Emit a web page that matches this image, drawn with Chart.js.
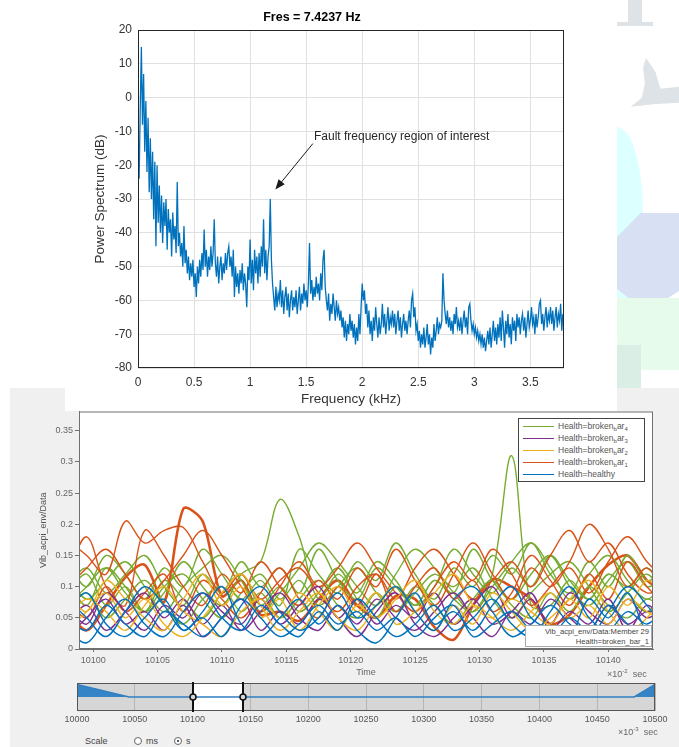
<!DOCTYPE html>
<html>
<head>
<meta charset="utf-8">
<script src="https://cdn.jsdelivr.net/npm/chart.js@4.4.1/dist/chart.umd.min.js"></script>
<style>
  html, body { margin: 0; padding: 0; background: #fff; }
  body { width: 679px; height: 747px; position: relative; overflow: hidden; font-family: "Liberation Sans", Arial, sans-serif; }
  .abs { position: absolute; }
  #panel { left: 10px; top: 388px; width: 669px; height: 359px; background: #f0f0f0; }
  #topWhite { left: 65px; top: 388px; width: 552px; height: 23px; background: #fff; z-index: 3; }
  #specWrap { left: 60px; top: 0; z-index: 4; }
  #envWrap { left: 10px; top: 400px; z-index: 2; }
  #sliderWrap { left: 60px; top: 678px; z-index: 2; }
  #legend { left: 518px; top: 418px; width: 125px; height: 62px; background: #fff; border: 1px solid #444; z-index: 5; font-size: 8.5px; color: #555; }
  #legend .row { position: absolute; left: 0; height: 12px; line-height: 12px; white-space: nowrap; }
  #legend .swatch { position: absolute; left: 4px; top: 6px; width: 31px; height: 0; border-top: 1.5px solid; }
  #legend .txt { position: absolute; left: 39px; top: 0; }
  #legend sub { font-size: 6px; vertical-align: -2px; line-height: 0; }
  .tip { left: 525px; top: 625px; width: 127px; height: 22px; background: #fff; border: 1px solid #aaa; z-index: 5; font-size: 7.6px; color: #444; text-align: right; line-height: 10px; padding: 1px 2px 0 0; box-sizing: border-box; white-space: nowrap; }
  .unit { font-size: 9px; color: #666; z-index: 5; white-space: nowrap; }
  .unit sup { font-size: 6px; }
  .radio { width: 8px; height: 8px; border: 1px solid #666; border-radius: 50%; background: #fff; z-index: 5; box-sizing: border-box; }
  .radio.on::after { content: ""; position: absolute; left: 2px; top: 2px; width: 2px; height: 2px; border-radius: 50%; background: #222; }
  .deco { z-index: 1; }
</style>
</head>
<body>
<div class="abs deco" style="left:628px;top:0;width:14px;height:23px;background:#dde3e6;"></div>
<div class="abs deco" style="left:617px;top:22px;width:36px;height:4px;background:#dde3e6;"></div>
<div class="abs deco" style="left:617px;top:58px;width:62px;height:64px;background:#dde3e6;clip-path:polygon(47% 0,62% 22%,70% 48%,100% 45%,100% 70%,62% 72%,22% 76%,40% 62%,45% 40%,42% 15%);"></div>
<div class="abs deco" style="left:617px;top:127px;width:26px;height:190px;background:#dcffff;border-radius:0 100% 0 0 / 0 45% 0 0;"></div>
<div class="abs deco" style="left:617px;top:213px;width:62px;height:100px;background:#d8e0f4;clip-path:polygon(0 24%,38% 0,100% 0,100% 78%,75% 88%,50% 100%,0 76%);"></div>
<div class="abs deco" style="left:617px;top:298px;width:62px;height:72px;background:#e6fbeb;border-radius:0 0 0 30px;"></div>
<div class="abs deco" style="left:617px;top:345px;width:24px;height:43px;background:#dbeee5;"></div>

<div class="abs" id="panel"></div>
<div class="abs" id="topWhite"></div>
<div class="abs" id="specWrap"><canvas id="specChart" width="520" height="412"></canvas></div>
<div class="abs" id="envWrap"><canvas id="envChart" width="669" height="282"></canvas></div>
<div class="abs" id="sliderWrap"><canvas id="sliderChart" width="615" height="50"></canvas></div>
<div class="abs" id="legend"></div>
<div class="abs tip">Vib_acpi_env/Data:Member 29<br>Health=broken_bar_1</div>
<div class="abs unit" style="left:607px;top:668px;">&times;10<sup>-2</sup>&nbsp; sec</div>
<div class="abs unit" style="left:618px;top:726px;">&times;10<sup>-3</sup>&nbsp; sec</div>
<div class="abs unit" style="left:85px;top:736px;color:#444;">Scale</div>
<div class="abs radio" style="left:134px;top:737px;"></div>
<div class="abs unit" style="left:146px;top:736px;color:#444;">ms</div>
<div class="abs radio on" style="left:174px;top:737px;"></div>
<div class="abs unit" style="left:186px;top:736px;color:#444;">s</div>

<script>
const FONT = '"Liberation Sans", Arial, sans-serif';

// ---- top chart: power spectrum ----
const specTitle = 'Fres = 7.4237 Hz';
const specFreqStep = 0.01; // kHz per bin
const specDb = [
  -10, -24, -3, 15, -8, 7, -16, -1, -22, -6, -28, -12, -30, -16, -36, -19, -44, -20, -37, -26,
  -40, -29, -43, -31, -38, -30, -45, -33, -40, -36, -47, -34, -42, -38, -46, -25, -44, -40, -47, -43,
  -50, -38, -49, -45, -52, -47, -54, -49, -53, -48, -56, -52, -59, -50, -55, -48, -53, -46, -51, -39,
  -50, -45, -53, -47, -51, -44, -50, -46, -36, -49, -53, -47, -55, -50, -47, -54, -49, -52, -46, -51,
  -46, -44, -50, -47, -53, -45, -59, -50, -56, -52, -58, -51, -55, -49, -57, -52, -55, -62, -50, -54,
  -42, -55, -48, -57, -45, -52, -47, -55, -46, -53, -44, -50, -36, -52, -45, -54, -47, -44, -30, -48,
  -55, -59, -63, -56, -62, -58, -60, -54, -62, -57, -64, -59, -56, -63, -58, -65, -60, -57, -63, -59,
  -62, -57, -64, -60, -56, -63, -58, -61, -55, -60, -57, -62, -55, -43, -58, -54, -60, -56, -59, -53,
  -58, -55, -60, -52, -57, -48, -45, -56, -60, -63, -58, -66, -61, -64, -58, -62, -66, -60, -64, -62,
  -66, -63, -68, -65, -71, -66, -72, -67, -70, -64, -69, -66, -71, -67, -73, -68, -72, -64, -70, -62,
  -55, -60, -57, -64, -61, -68, -63, -70, -66, -72, -65, -69, -62, -67, -71, -65, -70, -67, -61, -68,
  -64, -70, -66, -62, -69, -65, -67, -63, -68, -64, -70, -66, -63, -69, -65, -71, -67, -64, -69, -66,
  -70, -66, -63, -68, -60, -58, -65, -62, -69, -67, -72, -69, -74, -70, -73, -68, -74, -71, -67, -73,
  -70, -76, -71, -74, -67, -72, -69, -65, -70, -67, -68, -66, -52, -60, -64, -67, -63, -68, -65, -69,
  -66, -70, -64, -67, -62, -68, -66, -69, -65, -70, -66, -63, -68, -65, -70, -62, -61, -66, -69, -67,
  -70, -68, -71, -69, -72, -70, -73, -70, -74, -71, -75, -72, -69, -73, -68, -74, -70, -66, -72, -68,
  -73, -67, -71, -65, -72, -63, -68, -74, -66, -70, -64, -71, -67, -73, -65, -69, -66, -72, -64, -68,
  -65, -70, -66, -64, -69, -65, -71, -67, -63, -68, -66, -62, -67, -65, -70, -64, -68, -65, -61, -60,
  -67, -64, -69, -65, -62, -68, -64, -66, -62, -67, -63, -69, -65, -62, -68, -64, -66, -61, -69, -64,
  -67
];
const faultNote = 'Fault frequency region of interest';
const faultNoteAt = [1.57, -11.6];
const faultArrowFrom = [1.56, -13.6];
const faultArrowTo = [1.225, -27.2];

// ---- bottom chart: signal trace, x in 1e-2 sec ----
const envTimes = [10098, 10099.5, 10101, 10102.5, 10104, 10105.5, 10107, 10108.5, 10110, 10111.5,
  10113, 10114.5, 10116, 10117.5, 10119, 10120.5, 10122, 10123.5, 10125, 10126.5, 10128, 10129.5,
  10131, 10132.5, 10134, 10135.5, 10137, 10138.5, 10140, 10141.5, 10143, 10144.5];
const healthy1 = [0.03, 0.01, 0.05, 0.08, 0.04, 0.02, 0.06, 0.09, 0.05, 0.03, 0.07, 0.04, 0.02, 0.06, 0.03, 0.08, 0.05, 0.02, 0.04, 0.07, 0.03, 0.05, 0.08, 0.04, 0.02, 0.06, 0.1, 0.05, 0.03, 0.06, 0.04, 0.07];
const healthy2 = [0.06, 0.09, 0.04, 0.02, 0.05, 0.08, 0.03, 0.06, 0.1, 0.04, 0.02, 0.05, 0.08, 0.04, 0.07, 0.03, 0.01, 0.05, 0.09, 0.04, 0.06, 0.03, 0.07, 0.1, 0.05, 0.03, 0.02, 0.08, 0.05, 0.09, 0.03, 0.05];
const healthy3 = [0.08, 0.05, 0.02, 0.06, 0.1, 0.07, 0.03, 0.05, 0.02, 0.07, 0.1, 0.06, 0.03, 0.05, 0.09, 0.05, 0.07, 0.1, 0.06, 0.03, 0.08, 0.1, 0.06, 0.02, 0.04, 0.07, 0.04, 0.02, 0.06, 0.1, 0.07, 0.03];
const healthy4 = [0.05, 0.03, 0.07, 0.04, 0.02, 0.06, 0.04, 0.02, 0.05, 0.08, 0.05, 0.02, 0.04, 0.07, 0.04, 0.06, 0.03, 0.05, 0.02, 0.05, 0.07, 0.02, 0.04, 0.06, 0.03, 0.02, 0.05, 0.03, 0.07, 0.04, 0.02, 0.06];
const bar2a = [0.05, 0.08, 0.06, 0.03, 0.07, 0.1, 0.06, 0.04, 0.02, 0.06, 0.08, 0.05, 0.09, 0.06, 0.03, 0.07, 0.05, 0.08, 0.11, 0.06, 0.04, 0.07, 0.05, 0.03, 0.06, 0.09, 0.05, 0.07, 0.04, 0.08, 0.06, 0.04];
const bar2b = [0.09, 0.06, 0.11, 0.08, 0.05, 0.03, 0.08, 0.12, 0.07, 0.1, 0.05, 0.08, 0.03, 0.07, 0.1, 0.06, 0.09, 0.04, 0.06, 0.09, 0.12, 0.07, 0.05, 0.08, 0.06, 0.04, 0.08, 0.05, 0.1, 0.07, 0.11, 0.08];
const bar2c = [0.03, 0.06, 0.09, 0.05, 0.08, 0.04, 0.02, 0.05, 0.09, 0.12, 0.07, 0.03, 0.06, 0.09, 0.05, 0.03, 0.07, 0.1, 0.06, 0.03, 0.07, 0.04, 0.09, 0.06, 0.03, 0.05, 0.08, 0.11, 0.06, 0.03, 0.05, 0.09];
const bar3a = [0.04, 0.07, 0.03, 0.06, 0.09, 0.05, 0.08, 0.04, 0.07, 0.03, 0.06, 0.09, 0.05, 0.03, 0.07, 0.04, 0.08, 0.05, 0.03, 0.06, 0.09, 0.05, 0.02, 0.06, 0.04, 0.08, 0.05, 0.03, 0.07, 0.04, 0.06, 0.05];
const bar3b = [0.07, 0.04, 0.09, 0.06, 0.03, 0.07, 0.05, 0.09, 0.06, 0.04, 0.08, 0.04, 0.07, 0.1, 0.05, 0.08, 0.04, 0.07, 0.05, 0.09, 0.04, 0.07, 0.1, 0.05, 0.08, 0.04, 0.09, 0.06, 0.04, 0.08, 0.05, 0.07];
const bar3c = [0.02, 0.05, 0.08, 0.04, 0.06, 0.03, 0.07, 0.02, 0.05, 0.08, 0.03, 0.06, 0.04, 0.08, 0.05, 0.02, 0.06, 0.09, 0.04, 0.02, 0.05, 0.08, 0.04, 0.06, 0.09, 0.03, 0.06, 0.04, 0.08, 0.03, 0.07, 0.04];
const bar1a = [0.175, 0.15, 0.12, 0.205, 0.17, 0.19, 0.195, 0.14, 0.09, 0.12, 0.08, 0.11, 0.13, 0.09, 0.06, 0.1, 0.12, 0.08, 0.13, 0.16, 0.12, 0.08, 0.11, 0.14, 0.1, 0.15, 0.19, 0.14, 0.17, 0.12, 0.09, 0.1];
const bar1b = [0.12, 0.18, 0.1, 0.07, 0.19, 0.15, 0.1, 0.07, 0.12, 0.09, 0.14, 0.1, 0.07, 0.11, 0.08, 0.13, 0.1, 0.16, 0.11, 0.07, 0.12, 0.17, 0.12, 0.08, 0.13, 0.1, 0.14, 0.2, 0.16, 0.1, 0.13, 0.08];
const bar1c = [0.08, 0.05, 0.1, 0.06, 0.09, 0.12, 0.06, 0.11, 0.08, 0.05, 0.09, 0.13, 0.08, 0.05, 0.1, 0.07, 0.12, 0.06, 0.1, 0.13, 0.08, 0.11, 0.06, 0.09, 0.15, 0.11, 0.07, 0.12, 0.08, 0.14, 0.1, 0.07];
const bar1d = [0.1, 0.13, 0.16, 0.12, 0.08, 0.11, 0.15, 0.19, 0.15, 0.1, 0.06, 0.1, 0.14, 0.1, 0.13, 0.17, 0.13, 0.09, 0.06, 0.1, 0.14, 0.11, 0.16, 0.12, 0.07, 0.1, 0.13, 0.09, 0.14, 0.18, 0.14, 0.11];
const bar4a = [0.09, 0.12, 0.07, 0.1, 0.06, 0.11, 0.08, 0.05, 0.09, 0.12, 0.07, 0.1, 0.06, 0.09, 0.13, 0.08, 0.05, 0.1, 0.07, 0.11, 0.08, 0.06, 0.12, 0.31, 0.07, 0.07, 0.11, 0.08, 0.12, 0.09, 0.06, 0.1];
const bar4b = [0.11, 0.07, 0.13, 0.1, 0.06, 0.09, 0.14, 0.1, 0.07, 0.12, 0.14, 0.24, 0.18, 0.08, 0.12, 0.09, 0.14, 0.11, 0.07, 0.1, 0.16, 0.12, 0.09, 0.13, 0.1, 0.15, 0.11, 0.08, 0.12, 0.1, 0.13, 0.09];
const bar4c = [0.14, 0.1, 0.15, 0.12, 0.08, 0.13, 0.1, 0.16, 0.12, 0.08, 0.11, 0.07, 0.16, 0.12, 0.09, 0.14, 0.11, 0.17, 0.12, 0.08, 0.13, 0.1, 0.15, 0.12, 0.17, 0.12, 0.09, 0.14, 0.1, 0.15, 0.11, 0.13];
const bar4d = [0.06, 0.09, 0.05, 0.08, 0.11, 0.07, 0.04, 0.08, 0.1, 0.06, 0.09, 0.05, 0.08, 0.11, 0.07, 0.05, 0.09, 0.06, 0.1, 0.07, 0.04, 0.08, 0.11, 0.07, 0.05, 0.09, 0.06, 0.1, 0.07, 0.05, 0.08, 0.06];
const bar4e = [0.1, 0.13, 0.09, 0.12, 0.15, 0.1, 0.07, 0.12, 0.09, 0.14, 0.1, 0.13, 0.09, 0.16, 0.11, 0.08, 0.13, 0.1, 0.07, 0.11, 0.09, 0.16, 0.11, 0.08, 0.12, 0.15, 0.1, 0.07, 0.11, 0.14, 0.1, 0.12];
const bar4f = [0.12, 0.08, 0.11, 0.14, 0.1, 0.06, 0.1, 0.13, 0.15, 0.11, 0.06, 0.09, 0.13, 0.17, 0.14, 0.1, 0.07, 0.12, 0.16, 0.13, 0.09, 0.06, 0.1, 0.14, 0.17, 0.13, 0.08, 0.12, 0.15, 0.11, 0.08, 0.11];
const bar4g = [0.07, 0.1, 0.13, 0.09, 0.06, 0.1, 0.12, 0.08, 0.05, 0.09, 0.12, 0.08, 0.11, 0.07, 0.1, 0.13, 0.09, 0.06, 0.09, 0.12, 0.1, 0.13, 0.08, 0.05, 0.09, 0.12, 0.14, 0.1, 0.06, 0.09, 0.12, 0.08];
const member29 = [0.06, 0.03, 0.07, 0.115, 0.135, 0.075, 0.225, 0.205, 0.085, 0.11, 0.055, 0.06, 0.045, 0.08, 0.11, 0.07, 0.05, 0.085, 0.08, 0.035, 0.015, 0.07, 0.112, 0.1, 0.08, 0.04, 0.055, 0.1, 0.135, 0.15, 0.11, 0.09];

const groupNames = ['broken_bar_4', 'broken_bar_3', 'broken_bar_2', 'broken_bar_1', 'healthy'];
const groupColors = ['#77AC30', '#7E2F8E', '#EDB120', '#D95319', '#0072BD'];
const groupSeries = [
  [bar4a, bar4b, bar4c, bar4d, bar4e, bar4f, bar4g],
  [bar3a, bar3b, bar3c],
  [bar2a, bar2b, bar2c],
  [bar1a, bar1b, bar1c, bar1d],
  [healthy1, healthy2, healthy3, healthy4]
];
const drawOrder = [4, 2, 1, 3, 0]; // healthy first, green on top

// ---- range slider (1e-3 sec) ----
const overviewTimes = [10000, 10045, 10482, 10500];
const overviewLevel = [0.95, 0.5, 0.5, 0.95];
const sliderWindow = [10100, 10143.5];

// ================= top chart =================
const specFramePlugin = {
  id: 'specFrame',
  afterDraw(chart) {
    const { ctx, chartArea: a, scales: { x, y } } = chart;
    ctx.save();
    ctx.strokeStyle = '#262626';
    ctx.lineWidth = 1;
    ctx.strokeRect(a.left + 0.5, a.top + 0.5, a.width - 1, a.height - 1);
    // annotation
    const x1 = x.getPixelForValue(faultArrowFrom[0]), y1 = y.getPixelForValue(faultArrowFrom[1]);
    const x2 = x.getPixelForValue(faultArrowTo[0]), y2 = y.getPixelForValue(faultArrowTo[1]);
    const ang = Math.atan2(y2 - y1, x2 - x1);
    ctx.strokeStyle = '#1a1a1a';
    ctx.fillStyle = '#1a1a1a';
    ctx.beginPath();
    ctx.moveTo(x1, y1);
    ctx.lineTo(x2 - 6 * Math.cos(ang), y2 - 6 * Math.sin(ang));
    ctx.stroke();
    ctx.beginPath();
    ctx.moveTo(x2, y2);
    ctx.lineTo(x2 - 10 * Math.cos(ang) + 4 * Math.sin(ang), y2 - 10 * Math.sin(ang) - 4 * Math.cos(ang));
    ctx.lineTo(x2 - 10 * Math.cos(ang) - 4 * Math.sin(ang), y2 - 10 * Math.sin(ang) + 4 * Math.cos(ang));
    ctx.closePath();
    ctx.fill();
    ctx.font = '12px ' + FONT;
    ctx.textAlign = 'left';
    ctx.textBaseline = 'middle';
    ctx.fillStyle = '#262626';
    ctx.fillText(faultNote, x.getPixelForValue(faultNoteAt[0]), y.getPixelForValue(faultNoteAt[1]));
    ctx.restore();
  }
};

new Chart(document.getElementById('specChart'), {
  type: 'line',
  data: {
    datasets: [{
      data: specDb.map((v, i) => ({ x: Math.round(i * specFreqStep * 100) / 100, y: v })),
      borderColor: '#0072BD',
      borderWidth: 1.3,
      pointRadius: 0,
      tension: 0
    }]
  },
  options: {
    responsive: false,
    animation: false,
    layout: { padding: { left: 0, right: 16, top: 0, bottom: 0 } },
    plugins: {
      legend: { display: false },
      tooltip: { enabled: false },
      title: {
        display: true,
        text: specTitle,
        color: '#000',
        font: { family: FONT, size: 12.5, weight: 'bold' },
        padding: { top: 10, bottom: 5 }
      }
    },
    scales: {
      x: {
        type: 'linear',
        min: 0,
        max: 3.8,
        border: { display: false },
        grid: { color: '#e0e0e0', drawTicks: false },
        ticks: { stepSize: 0.5, includeBounds: false, padding: 7, maxRotation: 0, color: '#333', font: { family: FONT, size: 12 },
          callback: (v) => String(Math.round(v * 10) / 10) },
        title: { display: true, text: 'Frequency (kHz)', color: '#333', font: { family: FONT, size: 13.5 }, padding: { top: 0, bottom: 5 } },
        afterFit: (s) => { s.height = 44; }
      },
      y: {
        min: -80,
        max: 20,
        border: { display: false },
        grid: { color: '#e0e0e0', drawTicks: false },
        ticks: { stepSize: 10, padding: 6, color: '#333', font: { family: FONT, size: 12 } },
        title: { display: true, text: 'Power Spectrum (dB)', color: '#333', font: { family: FONT, size: 13.5 }, padding: { top: 32, bottom: 0 } },
        afterFit: (s) => { s.width = 78; }
      }
    }
  },
  plugins: [specFramePlugin]
});

// ================= bottom chart =================
const envDatasets = [];
drawOrder.forEach((g) => {
  groupSeries[g].forEach((vals) => {
    envDatasets.push({
      label: 'Health=' + groupNames[g],
      data: vals.map((v, i) => ({ x: envTimes[i], y: v })),
      borderColor: groupColors[g],
      borderWidth: 1.4,
      pointRadius: 0,
      tension: 0.35
    });
  });
});
envDatasets.push({
  label: 'Vib_acpi_env/Data:Member 29',
  data: member29.map((v, i) => ({ x: envTimes[i], y: v })),
  borderColor: '#D95319',
  borderWidth: 2.6,
  pointRadius: 0,
  tension: 0.3
});

const envFramePlugin = {
  id: 'envFrame',
  beforeDraw(chart) {
    const { ctx, chartArea: a } = chart;
    ctx.save();
    ctx.fillStyle = '#fff';
    ctx.fillRect(a.left, a.top, a.width, a.height);
    ctx.restore();
  },
  afterDraw(chart) {
    const { ctx, chartArea: a } = chart;
    ctx.save();
    ctx.strokeStyle = '#707070';
    ctx.lineWidth = 1;
    ctx.strokeRect(a.left + 0.5, a.top + 0.5, a.width - 1, a.height - 1);
    ctx.restore();
  }
};

new Chart(document.getElementById('envChart'), {
  type: 'line',
  data: { datasets: envDatasets },
  options: {
    responsive: false,
    animation: false,
    layout: { padding: { left: 0, right: 26, top: 11.5, bottom: 0 } },
    plugins: { legend: { display: false }, tooltip: { enabled: false } },
    scales: {
      x: {
        type: 'linear',
        min: 10098.9,
        max: 10143.47,
        border: { color: '#707070' },
        grid: { drawOnChartArea: false, tickLength: 3, tickColor: '#707070' },
        ticks: { stepSize: 5, includeBounds: false, autoSkip: false, padding: 3, maxRotation: 0, color: '#666', font: { family: FONT, size: 9 }, callback: (v) => String(v) },
        title: { display: true, text: 'Time', color: '#666', font: { family: FONT, size: 9 }, padding: { top: 0, bottom: 4 } },
        afterFit: (s) => { s.height = 33; }
      },
      y: {
        min: 0,
        max: 0.381,
        border: { color: '#707070' },
        grid: { drawOnChartArea: false, tickLength: 4, tickColor: '#707070' },
        ticks: { stepSize: 0.05, includeBounds: false, padding: 2, color: '#666', font: { family: FONT, size: 9 },
          callback: (v) => String(Math.round(v * 100) / 100) },
        title: { display: true, text: 'Vib_acpi_env/Data', color: '#555', font: { family: FONT, size: 9 }, padding: { top: 28, bottom: 0 } },
        afterFit: (s) => { s.width = 69; }
      }
    }
  },
  plugins: [envFramePlugin]
});

// legend built from the group arrays
const legendEl = document.getElementById('legend');
groupNames.forEach((name, i) => {
  const row = document.createElement('div');
  row.className = 'row';
  row.style.top = (1 + i * 12) + 'px';
  const sw = document.createElement('span');
  sw.className = 'swatch';
  sw.style.borderTopColor = groupColors[i];
  const tx = document.createElement('span');
  tx.className = 'txt';
  tx.innerHTML = 'Health=' + name.replace(/_(.)/g, '<sub>$1</sub>');
  row.appendChild(sw);
  row.appendChild(tx);
  legendEl.appendChild(row);
});

// ================= range slider =================
const sliderPlugin = {
  id: 'sliderPanel',
  beforeDraw(chart) {
    const { ctx, chartArea: a } = chart;
    ctx.save();
    ctx.fillStyle = '#d6d6d6';
    ctx.fillRect(a.left, a.top, a.width, a.height);
    ctx.restore();
  },
  beforeDatasetsDraw(chart) {
    const { ctx, chartArea: a, scales: { x } } = chart;
    const l = x.getPixelForValue(sliderWindow[0]), r = x.getPixelForValue(sliderWindow[1]);
    ctx.save();
    ctx.fillStyle = '#fff';
    ctx.fillRect(l, a.top, r - l, a.height);
    ctx.restore();
  },
  afterDatasetsDraw(chart) {
    const { ctx, chartArea: a, scales: { x, y } } = chart;
    const mid = y.getPixelForValue(0.5);
    ctx.save();
    ctx.strokeStyle = '#555';
    ctx.lineWidth = 1;
    ctx.strokeRect(a.left + 0.5, a.top + 0.5, a.width - 1, a.height - 1);
    sliderWindow.forEach((t) => {
      const px = Math.round(x.getPixelForValue(t));
      ctx.strokeStyle = '#111';
      ctx.lineWidth = 2;
      ctx.beginPath();
      ctx.moveTo(px, a.top - 1);
      ctx.lineTo(px, a.bottom + 1);
      ctx.stroke();
      ctx.fillStyle = '#d6d6d6';
      ctx.lineWidth = 1.5;
      ctx.beginPath();
      ctx.arc(px, mid, 3, 0, Math.PI * 2);
      ctx.fill();
      ctx.stroke();
    });
    ctx.restore();
  }
};

new Chart(document.getElementById('sliderChart'), {
  type: 'line',
  data: {
    datasets: [{
      data: overviewTimes.map((t, i) => ({ x: t, y: overviewLevel[i] })),
      borderColor: '#2f7fc2',
      borderWidth: 1.5,
      backgroundColor: '#3585c6',
      fill: { value: 0.5 },
      pointRadius: 0,
      tension: 0
    }]
  },
  options: {
    responsive: false,
    animation: false,
    layout: { padding: { left: 17, right: 20, top: 5, bottom: 0 } },
    plugins: { legend: { display: false }, tooltip: { enabled: false } },
    scales: {
      x: {
        type: 'linear',
        min: 10000,
        max: 10500,
        border: { display: false },
        grid: { color: '#b5b5b5', drawTicks: false },
        ticks: { stepSize: 50, autoSkip: false, padding: 3, maxRotation: 0, color: '#555', font: { family: FONT, size: 9 }, callback: (v) => String(v) },
        afterFit: (s) => { s.height = 17; }
      },
      y: { display: false, min: 0, max: 1 }
    }
  },
  plugins: [sliderPlugin]
});
</script>
</body>
</html>
